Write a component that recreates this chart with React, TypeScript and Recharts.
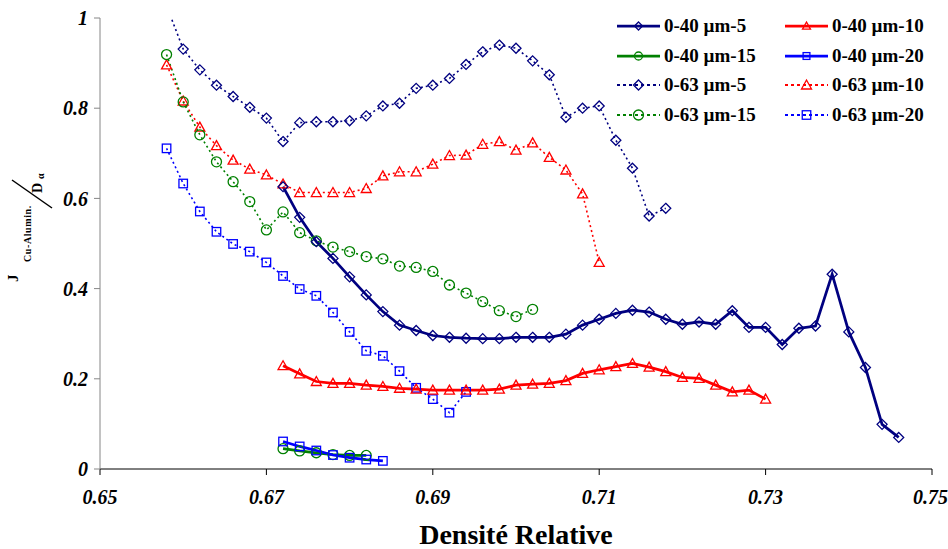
import React from 'react';
import { LineChart, Line, XAxis, YAxis, Legend, Label } from 'recharts';

// relative density grid (step 0.002)
const DENSITY = [
  0.658, 0.66, 0.662, 0.664, 0.666, 0.668, 0.67, 0.672, 0.674, 0.676,
  0.678, 0.68, 0.682, 0.684, 0.686, 0.688, 0.69, 0.692, 0.694, 0.696,
  0.698, 0.7, 0.702, 0.704, 0.706, 0.708, 0.71, 0.712, 0.714, 0.716,
  0.718, 0.72, 0.722, 0.724, 0.726, 0.728, 0.73, 0.732, 0.734, 0.736,
  0.738, 0.74, 0.742, 0.744, 0.746,
];

const X_TICKS = [0.65, 0.67, 0.69, 0.71, 0.73, 0.75];
const Y_TICKS = [0, 0.2, 0.4, 0.6, 0.8, 1];

// 0-40 µm powders, first point at 0.672
const P40_5 = [
  0.626, 0.558, 0.504, 0.467, 0.426, 0.386, 0.349, 0.319, 0.307, 0.296,
  0.292, 0.29, 0.289, 0.289, 0.292, 0.292, 0.292, 0.299, 0.319, 0.332,
  0.345, 0.352, 0.348, 0.332, 0.321, 0.326, 0.321, 0.351, 0.314, 0.314,
  0.276, 0.312, 0.317, 0.432, 0.304, 0.225, 0.099, 0.07,
];
const P40_10 = [
  0.229, 0.211, 0.194, 0.19, 0.19, 0.186, 0.183, 0.179, 0.177, 0.175,
  0.175, 0.175, 0.175, 0.177, 0.186, 0.188, 0.19, 0.196, 0.212, 0.22,
  0.227, 0.234, 0.226, 0.216, 0.203, 0.201, 0.186, 0.171, 0.175, 0.155,
];
const P40_15 = [0.045, 0.04, 0.036, 0.032, 0.03, 0.03];
const P40_20 = [0.061, 0.05, 0.041, 0.031, 0.025, 0.021, 0.018];

// 0-63 µm powders, first point at 0.658
const P63_5 = [
  1.027, 0.931, 0.885, 0.851, 0.826, 0.802, 0.778, 0.726, 0.768, 0.77,
  0.77, 0.772, 0.783, 0.805, 0.811, 0.844, 0.851, 0.866, 0.897, 0.925,
  0.94, 0.933, 0.905, 0.874, 0.78, 0.8, 0.805, 0.729, 0.667, 0.561,
  0.578,
];
const P63_10 = [
  0.896, 0.816, 0.758, 0.717, 0.685, 0.665, 0.652, 0.632, 0.613, 0.613,
  0.613, 0.613, 0.622, 0.65, 0.659, 0.659, 0.676, 0.695, 0.696, 0.72,
  0.726, 0.707, 0.723, 0.691, 0.663, 0.61, 0.458,
];
const P63_15 = [
  0.919, 0.814, 0.741, 0.681, 0.637, 0.593, 0.53, 0.57, 0.524, 0.506,
  0.492, 0.482, 0.471, 0.466, 0.45, 0.447, 0.438, 0.408, 0.39, 0.371,
  0.351, 0.338, 0.354,
];
const P63_20 = [
  0.711, 0.633, 0.571, 0.526, 0.499, 0.482, 0.458, 0.428, 0.399, 0.384,
  0.347, 0.304, 0.262, 0.251, 0.217, 0.18, 0.155, 0.125, 0.171,
];

type Shape = 'diamond' | 'triangle' | 'circle' | 'square';

// legend order is row by row, two columns
const SERIES = [
  { key: 'a5', name: '0-40 µm-5', start: 0.672, values: P40_5, color: '#000080', dotted: false, shape: 'diamond' as Shape },
  { key: 'a10', name: '0-40 µm-10', start: 0.672, values: P40_10, color: '#FF0000', dotted: false, shape: 'triangle' as Shape },
  { key: 'a15', name: '0-40 µm-15', start: 0.672, values: P40_15, color: '#008000', dotted: false, shape: 'circle' as Shape },
  { key: 'a20', name: '0-40 µm-20', start: 0.672, values: P40_20, color: '#0000FF', dotted: false, shape: 'square' as Shape },
  { key: 'b5', name: '0-63 µm-5', start: 0.658, values: P63_5, color: '#000080', dotted: true, shape: 'diamond' as Shape },
  { key: 'b10', name: '0-63 µm-10', start: 0.658, values: P63_10, color: '#FF0000', dotted: true, shape: 'triangle' as Shape },
  { key: 'b15', name: '0-63 µm-15', start: 0.658, values: P63_15, color: '#008000', dotted: true, shape: 'circle' as Shape },
  { key: 'b20', name: '0-63 µm-20', start: 0.658, values: P63_20, color: '#0000FF', dotted: true, shape: 'square' as Shape },
];

const data = DENSITY.map((d, i) => {
  const row: Record<string, number | null> = { d };
  SERIES.forEach((s) => {
    const first = DENSITY.findIndex((x) => Math.abs(x - s.start) < 1e-9);
    const j = i - first;
    row[s.key] = j >= 0 && j < s.values.length ? s.values[j] : null;
  });
  return row;
});

const DOT_LINE = '2 3';
const SERIF = 'Liberation Serif, DejaVu Serif, serif';

const drawMarker = (shape: Shape, cx: number, cy: number, s: number, color: string, key?: string | number) => {
  const common = { key, fill: 'none', stroke: color, strokeWidth: 1.3 };
  switch (shape) {
    case 'diamond':
      return <path {...common} d={`M${cx},${cy - s}L${cx + s},${cy}L${cx},${cy + s}L${cx - s},${cy}Z`} />;
    case 'triangle':
      return <path {...common} d={`M${cx},${cy - s}L${cx + s},${cy + s * 0.8}L${cx - s},${cy + s * 0.8}Z`} />;
    case 'circle':
      return <circle {...common} cx={cx} cy={cy} r={s} />;
    default:
      return <rect {...common} x={cx - s * 0.85} y={cy - s * 0.85} width={s * 1.7} height={s * 1.7} />;
  }
};

const makeDot = (shape: Shape, color: string) => (props: any) => {
  const { cx, cy, value, index } = props;
  if (value == null || value > 1 || cx == null || cy == null) return <g key={`e-${index}`} />;
  return drawMarker(shape, cx, cy, 5, color, `m-${index}`);
};

const renderLegend = () => (
  <div style={{ position: 'relative', width: 948, height: 140 }}>
    {SERIES.map((s, i) => {
      const row = Math.floor(i / 2);
      const left = i % 2 === 0 ? 615 : 783;
      const top = 26 + row * 29.7;
      return (
        <div
          key={s.key}
          style={{ position: 'absolute', left, top: top - 10, height: 20, display: 'flex', alignItems: 'center', whiteSpace: 'nowrap' }}
        >
          <svg width={47} height={20}>
            <line
              x1={2}
              y1={10}
              x2={45}
              y2={10}
              stroke={s.color}
              strokeWidth={s.dotted ? 1.8 : 2.75}
              strokeDasharray={s.dotted ? '3 3' : undefined}
            />
            {drawMarker(s.shape, 23.5, 10, s.dotted ? 5 : 4, s.color)}
          </svg>
          <span style={{ marginLeft: 2, fontFamily: SERIF, fontWeight: 'bold', fontSize: 19, lineHeight: '20px', color: '#000' }}>
            {s.name}
          </span>
        </div>
      );
    })}
  </div>
);

const renderYLabel = () => (
  <g fontFamily={SERIF} fontWeight="bold" fill="#000">
    <g transform="translate(30,230) rotate(-90)">
      <text x={-52} y={-12} fontSize={15}>J</text>
      <text x={-32} y={1} fontSize={10} letterSpacing={0.6}>Cu-Alumin.</text>
      <text x={37} y={12} fontSize={14}>D</text>
      <text x={51} y={14} fontSize={10}>α</text>
    </g>
    <line x1={12} y1={180} x2={52} y2={208} stroke="#000" strokeWidth={1.5} />
  </g>
);

const tickStyle = { fontFamily: SERIF, fontWeight: 'bold', fontStyle: 'italic', fontSize: 20, fill: '#000' };

export default function App() {
  const drawn = [...SERIES.filter((s) => s.dotted), ...SERIES.filter((s) => !s.dotted)];
  return (
    <div style={{ position: 'absolute', left: 0, top: 0, background: '#fff' }}>
      <LineChart width={948} height={549} data={data} margin={{ top: 18, right: 16, bottom: 0, left: 0 }}>
        <XAxis
          dataKey="d"
          type="number"
          domain={[0.65, 0.75]}
          ticks={X_TICKS}
          tickFormatter={(v: number) => v.toFixed(2)}
          height={80}
          stroke="#000"
          tickSize={6}
          tickMargin={15}
          tick={tickStyle}
        >
          <Label
            value="Densité Relative"
            position="insideBottom"
            offset={5}
            style={{ fontFamily: SERIF, fontWeight: 'bold', fontSize: 28, fill: '#000' }}
          />
        </XAxis>
        <YAxis
          type="number"
          domain={[0, 1]}
          ticks={Y_TICKS}
          allowDataOverflow
          width={100}
          stroke="#868686"
          tickSize={6}
          tickMargin={6}
          tick={tickStyle}
        >
          <Label content={renderYLabel} />
        </YAxis>
        <Legend
          layout="vertical"
          align="center"
          verticalAlign="middle"
          content={renderLegend}
          wrapperStyle={{ left: 0, top: 0, width: 948, height: 140 }}
        />
        {drawn.map((s) => (
          <Line
            key={s.key}
            dataKey={s.key}
            name={s.name}
            type="linear"
            stroke={s.color}
            strokeWidth={s.dotted ? 1.6 : 2.75}
            strokeDasharray={s.dotted ? DOT_LINE : undefined}
            dot={makeDot(s.shape, s.color)}
            activeDot={false}
            isAnimationActive={false}
          />
        ))}
      </LineChart>
    </div>
  );
}
